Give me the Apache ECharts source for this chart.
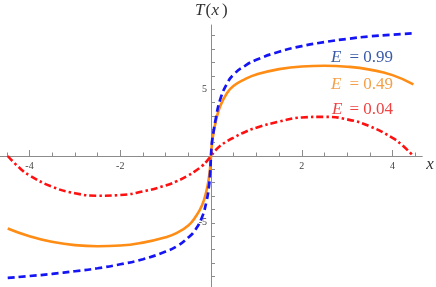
<!DOCTYPE html>
<html><head><meta charset="utf-8">
<script src="https://cdn.jsdelivr.net/npm/echarts@6/dist/echarts.min.js"></script>
<style>html,body{margin:0;padding:0;background:#fff}#c{width:436px;height:287px}</style>
</head><body><div id="c"></div>
<script>
// ---- data ----
const xMajorTicks = [-4, -2, 2, 4];
const xMinorTicks = [-4.5, -3.5, -3, -2.5, -1.5, -1, -0.5, 0.5, 1, 1.5, 2.5, 3, 3.5, 4.5];
const yTicks = [-9, -8, -7, -6, -5, -4, -3, -2, -1, 1, 2, 3, 4, 5, 6, 7, 8, 9];
const yLabels = [-5, 5];

const seriesNames = ['E = 0.99', 'E = 0.49', 'E = 0.04'];

const xBlue = [-4.48, -4, -3.5, -3, -2.5, -2, -1.5, -1, -0.75, -0.5, -0.35, -0.2, -0.1, -0.05, -0.02, 0, 0.02, 0.05, 0.1, 0.2, 0.35, 0.5, 0.75, 1, 1.5, 2, 2.5, 3, 3.5, 4, 4.46];
const yBlue = [-9.12, -8.98, -8.82, -8.62, -8.4, -8.1, -7.72, -7.15, -6.75, -6.1, -5.55, -4.6, -3.4, -2.4, -1.3, 0, 1.0, 1.7, 2.7, 4.2, 5.4, 6.1, 6.75, 7.2, 7.8, 8.22, 8.52, 8.76, 8.95, 9.08, 9.18];

const xOrange = [-4.48, -4, -3.5, -3, -2.5, -2, -1.5, -1, -0.75, -0.5, -0.35, -0.2, -0.1, -0.05, -0.02, 0, 0.02, 0.05, 0.1, 0.2, 0.35, 0.5, 0.75, 1, 1.5, 2, 2.5, 3, 3.5, 4, 4.46];
const yOrange = [-5.42, -6.0, -6.42, -6.67, -6.75, -6.7, -6.48, -6.08, -5.75, -5.2, -4.6, -3.7, -2.6, -1.7, -0.9, 0, 0.9, 1.6, 2.5, 3.7, 4.7, 5.25, 5.75, 6.1, 6.5, 6.7, 6.75, 6.68, 6.46, 6.05, 5.36];

const xRed = [-4.48, -4.2, -4, -3.5, -3, -2.5, -2, -1.5, -1, -0.75, -0.5, -0.35, -0.2, -0.1, 0, 0.1, 0.2, 0.35, 0.5, 0.75, 1, 1.5, 2, 2.5, 3, 3.5, 4, 4.2, 4.46];
const yRed = [0, -0.95, -1.45, -2.3, -2.78, -2.97, -2.92, -2.65, -2.2, -1.88, -1.45, -1.13, -0.75, -0.42, 0, 0.42, 0.75, 1.1, 1.38, 1.8, 2.12, 2.57, 2.88, 2.93, 2.74, 2.22, 1.35, 0.85, 0];

// ---- chart ----
const pairs = (xs, ys) => xs.map((x, i) => [x, ys[i]]);
const chart = echarts.init(document.getElementById('c'), null, { renderer: 'canvas' });
const axisColor = '#8c8c8c';
const tickFont = { fontFamily: 'Liberation Serif', fontSize: 10, color: '#444' };
const lineBase = { type: 'line', showSymbol: false, smooth: 0.5, xAxisIndex: 0, yAxisIndex: 0 };
const serif = 'Liberation Serif';
const X_MIN = -4.65, X_MAX = 4.65, Y_MIN = -9.8, Y_MAX = 9.8;
const G = { left: 0, right: 14, top: 25, bottom: 0 };
const W = 436, H = 287;
// pixel offsets of the zero lines (for the label-only axes)
const zeroXpx = G.left + (0 - X_MIN) / (X_MAX - X_MIN) * (W - G.left - G.right);
const zeroYfromBottom = G.bottom + (0 - Y_MIN) / (Y_MAX - Y_MIN) * (H - G.top - G.bottom);

chart.setOption({
  animation: false,
  backgroundColor: '#fff',
  grid: Object.assign({ containLabel: false, outerBoundsMode: 'none' }, G),
  xAxis: [
    {
      type: 'value', min: X_MIN, max: X_MAX, position: 'bottom',
      axisLine: { onZero: true, onZeroAxisIndex: 0, lineStyle: { color: axisColor, width: 1 } },
      axisTick: { show: true, inside: true, length: 6, customValues: xMajorTicks, lineStyle: { color: axisColor } },
      axisLabel: { show: false },
      splitLine: { show: false }
    },
    {
      type: 'value', min: X_MIN, max: X_MAX, position: 'bottom',
      axisLine: { onZero: true, onZeroAxisIndex: 0, lineStyle: { color: axisColor, width: 1 } },
      axisTick: { show: true, inside: true, length: 3.5, customValues: xMinorTicks, lineStyle: { color: axisColor } },
      axisLabel: { show: false },
      splitLine: { show: false }
    },
    {
      type: 'value', min: X_MIN, max: X_MAX, position: 'bottom', offset: -zeroYfromBottom,
      axisLine: { show: false, onZero: false },
      axisTick: { show: false },
      axisLabel: Object.assign({ show: true, margin: 5, customValues: xMajorTicks, showMinLabel: true, showMaxLabel: true }, tickFont),
      splitLine: { show: false }
    }
  ],
  yAxis: [
    {
      type: 'value', min: Y_MIN, max: Y_MAX, position: 'left',
      axisLine: { onZero: true, onZeroAxisIndex: 0, lineStyle: { color: axisColor, width: 1 } },
      axisTick: { show: true, inside: true, length: 4, customValues: yTicks, lineStyle: { color: axisColor } },
      axisLabel: { show: false },
      splitLine: { show: false }
    },
    {
      type: 'value', min: Y_MIN, max: Y_MAX, position: 'left', offset: -zeroXpx,
      axisLine: { show: false, onZero: false },
      axisTick: { show: false },
      axisLabel: Object.assign({ show: true, margin: 4, customValues: yLabels }, tickFont),
      splitLine: { show: false }
    }
  ],
  series: [
    Object.assign({}, lineBase, { name: seriesNames[0], data: pairs(xBlue, yBlue), lineStyle: { color: '#1414f5', width: 2.7, type: [7, 4] }, z: 4 }),
    Object.assign({}, lineBase, { name: seriesNames[1], data: pairs(xOrange, yOrange), lineStyle: { color: '#ff8c14', width: 2.6 }, z: 3 }),
    Object.assign({}, lineBase, { name: seriesNames[2], data: pairs(xRed, yRed), lineStyle: { color: '#ff1010', width: 2.6, type: [7, 3, 2.5, 3] }, z: 3 })
  ],
  graphic: [
    { type: 'text', x: 331, y: 58, style: { text: 'E', fill: '#3a5ca8', font: 'italic 17px ' + serif, align: 'left', verticalAlign: 'middle' } },
    { type: 'text', x: 393, y: 58, style: { text: '= 0.99', fill: '#3a5ca8', font: '17px ' + serif, align: 'right', verticalAlign: 'middle' } },
    { type: 'text', x: 331, y: 85, style: { text: 'E', fill: '#f4a048', font: 'italic 17px ' + serif, align: 'left', verticalAlign: 'middle' } },
    { type: 'text', x: 393, y: 85, style: { text: '= 0.49', fill: '#f4a048', font: '17px ' + serif, align: 'right', verticalAlign: 'middle' } },
    { type: 'text', x: 332, y: 110, style: { text: 'E', fill: '#ee4444', font: 'italic 17px ' + serif, align: 'left', verticalAlign: 'middle' } },
    { type: 'text', x: 393, y: 110, style: { text: '= 0.04', fill: '#ee4444', font: '17px ' + serif, align: 'right', verticalAlign: 'middle' } },
    { type: 'text', x: 195, y: 11, style: { text: 'T', fill: '#333', font: 'italic 17px ' + serif, align: 'left', verticalAlign: 'middle' } },
    { type: 'text', x: 205.5, y: 11, style: { text: '(', fill: '#333', font: '17px ' + serif, align: 'left', verticalAlign: 'middle' } },
    { type: 'text', x: 211.5, y: 11, style: { text: 'x', fill: '#333', font: 'italic 17px ' + serif, align: 'left', verticalAlign: 'middle' } },
    { type: 'text', x: 222, y: 11, style: { text: ')', fill: '#333', font: '17px ' + serif, align: 'left', verticalAlign: 'middle' } },
    { type: 'text', x: 430, y: 165, style: { text: 'x', fill: '#333', font: 'italic 17px ' + serif, align: 'center', verticalAlign: 'middle' } }
  ]
});
</script>
</body></html>
